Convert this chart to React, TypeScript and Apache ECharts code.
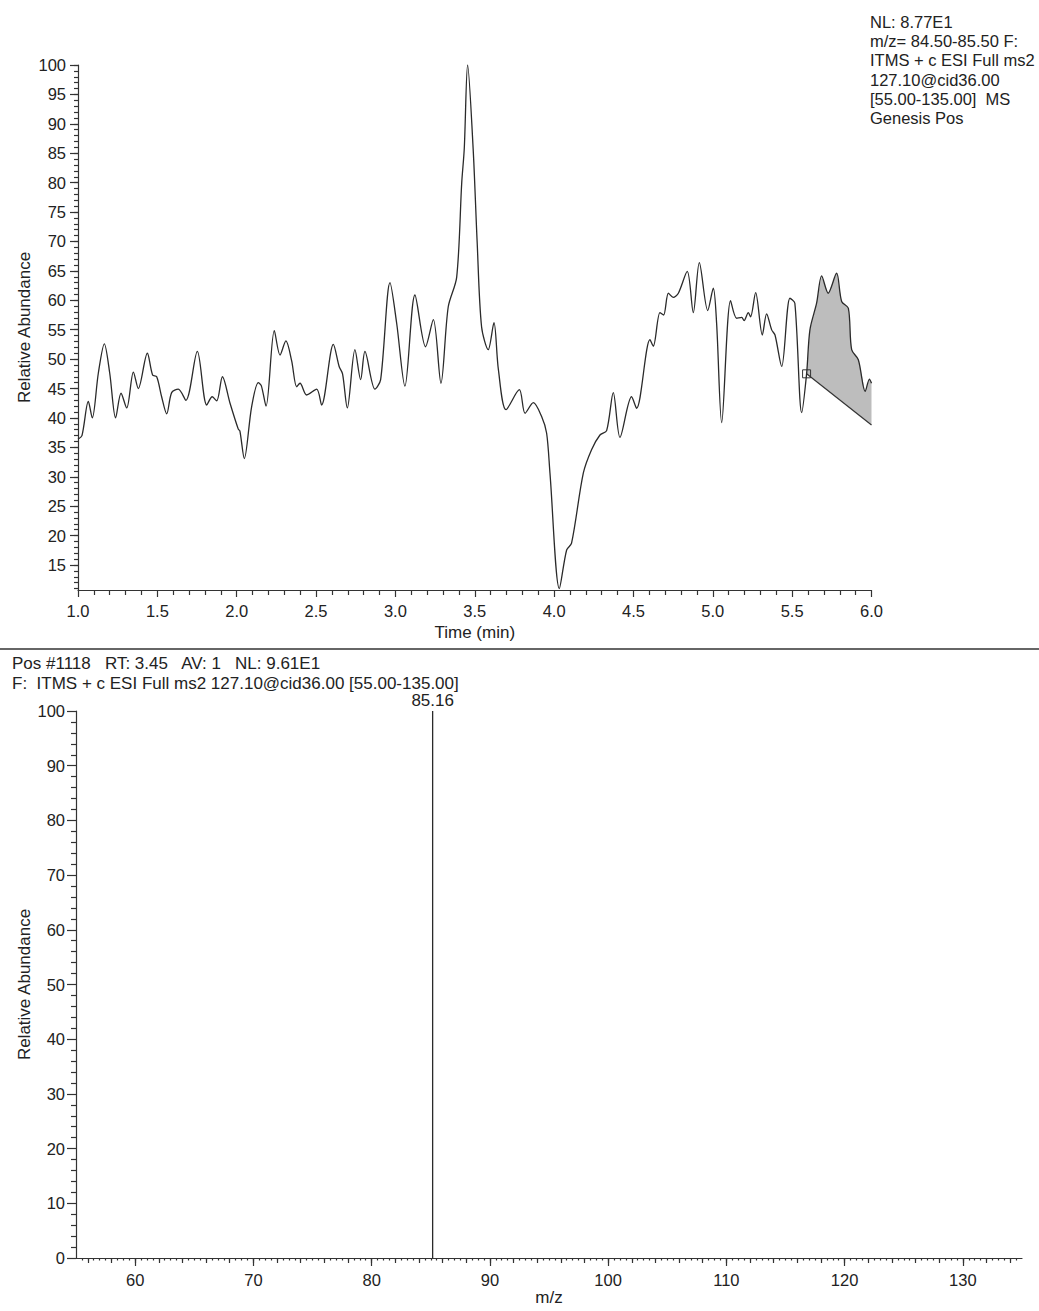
import React, { useEffect, useRef } from "react";
import * as echarts from "echarts";

// ---- Chromatogram (top panel) ----
const chromTime = [
  1.0, 1.025, 1.065, 1.09, 1.128, 1.166, 1.2, 1.237, 1.271, 1.307, 1.349, 1.38,
  1.437, 1.47, 1.496, 1.527, 1.559, 1.59, 1.632, 1.68, 1.752, 1.811, 1.846, 1.874,
  1.91, 1.958, 2.01, 2.02, 2.048, 2.094, 2.136, 2.155, 2.185, 2.237, 2.273, 2.31,
  2.346, 2.378, 2.399, 2.441, 2.504, 2.535, 2.609, 2.646, 2.667, 2.697, 2.745, 2.781,
  2.808, 2.871, 2.907, 2.966, 3.008, 3.06, 3.123, 3.19, 3.239, 3.287, 3.333, 3.386,
  3.418, 3.434, 3.455, 3.49, 3.515, 3.543, 3.585, 3.621, 3.649, 3.697, 3.781, 3.817,
  3.869, 3.922, 3.953, 3.974, 4.033, 4.079, 4.11, 4.184, 4.236, 4.289, 4.331, 4.373,
  4.415, 4.488, 4.52, 4.604, 4.625, 4.667, 4.69, 4.72, 4.75, 4.783, 4.839, 4.877,
  4.915, 4.968, 5.003, 5.024, 5.056, 5.112, 5.15, 5.182, 5.197, 5.224, 5.238, 5.27,
  5.312, 5.339, 5.371, 5.392, 5.434, 5.486, 5.517, 5.56, 5.591, 5.612, 5.654, 5.686,
  5.727, 5.78, 5.812, 5.854, 5.875, 5.917, 5.96, 5.987, 6.0,
];
const chromAbund = [
  36.4, 37.0, 42.8, 40.0, 47.6, 52.6, 47.6, 40.0, 44.2, 41.7, 47.8, 45.0,
  51.0, 47.3, 47.0, 43.6, 40.7, 44.3, 44.9, 43.0, 51.3, 42.2, 43.6, 42.9,
  47.0, 42.5, 38.1, 37.8, 33.1, 41.9, 46.0, 45.5, 42.0, 54.85, 50.7, 53.1,
  49.75, 45.3, 45.9, 43.9, 44.9, 42.2, 52.5, 48.7, 47.5, 41.7, 51.6, 46.5,
  51.3, 44.9, 46.5, 63.0, 56.1, 45.4, 60.9, 52.1, 56.7, 45.9, 58.9, 63.9,
  80.0, 85.8, 100.0, 85.7, 70.0, 55.5, 51.6, 56.2, 48.2, 41.4, 44.8, 40.8,
  42.6, 40.2, 37.4, 30.6, 11.0, 17.55, 18.7, 30.6, 34.6, 37.1, 37.85, 44.3,
  36.7, 43.6, 41.65, 53.3, 52.2, 57.9, 57.5, 61.2, 60.5, 61.2, 64.9, 57.9,
  66.4, 58.25, 62.05, 56.1, 39.2, 59.95, 56.95, 57.1, 56.55, 57.9, 57.2, 61.3,
  54.1, 57.7, 54.97, 54.1, 48.75, 60.35, 59.5, 40.9, 47.5, 54.97, 59.5, 64.15,
  61.2, 64.6, 59.8, 58.65, 51.6, 49.9, 44.5, 46.6, 45.9,
];
// integrated peak region: baseline from start point to end point
const shadeTimes = [5.591, 6.0];
const shadeBase = [47.5, 38.8];

const chromYMin = 10.75;
const chromYMax = 100;
const chromYLabels = [15, 20, 25, 30, 35, 40, 45, 50, 55, 60, 65, 70, 75, 80, 85, 90, 95, 100];

const chromInfoLines = [
  "NL: 8.77E1",
  "m/z= 84.50-85.50 F:",
  "ITMS + c ESI Full ms2",
  "127.10@cid36.00",
  "[55.00-135.00]  MS",
  "Genesis Pos",
];

// ---- Mass spectrum (bottom panel) ----
const specMz = [85.16];
const specIntensity = [100];
const specXLabels = [60, 70, 80, 90, 100, 110, 120, 130];
const specHeaderLines = [
  "Pos #1118   RT: 3.45   AV: 1   NL: 9.61E1",
  "F:  ITMS + c ESI Full ms2 127.10@cid36.00 [55.00-135.00]",
];

const FONT = "'Liberation Sans', Arial, Helvetica, sans-serif";
const INK = "#222";
const LINE = "#333";

function range(a: number, b: number, step: number): number[] {
  const out: number[] = [];
  for (let v = a; v <= b + 1e-9; v += step) out.push(Math.round(v * 100) / 100);
  return out;
}

export default function App() {
  const ref = useRef<HTMLDivElement>(null);

  useEffect(() => {
    if (!ref.current) return;
    const chart = echarts.init(ref.current, undefined, { renderer: "svg" });

    const chromData = chromTime.map((t, i) => [t, chromAbund[i]]);
    const shadePts = chromTime
      .map((t, i) => [t, chromAbund[i]])
      .filter((p) => p[0] >= shadeTimes[0] - 1e-9);

    const specLineData: any[] = [];
    specMz.forEach((mz, i) => {
      specLineData.push([mz, 0], [mz, specIntensity[i]], "-");
    });

    const chromYTicks = range(11, 100, 1);
    const specMidTicks = range(56, 134, 2);
    const specSmallTicks = range(55.5, 134.5, 0.5);

    const axisText = { color: INK, fontSize: 16.5, fontFamily: FONT };
    const nameText = { color: INK, fontSize: 17, fontFamily: FONT };
    const lineStyle = { color: LINE, width: 1.2 };

    const option: any = {
      animation: false,
      backgroundColor: "#fff",
      grid: [
        { left: 78, top: 65, width: 793.5, height: 525 },
        { left: 76, top: 711, width: 946, height: 547 },
      ],
      xAxis: [
        {
          type: "value",
          gridIndex: 0,
          min: 1,
          max: 6,
          interval: 0.5,
          axisLine: { lineStyle },
          axisTick: { length: 7, lineStyle },
          minorTick: { show: true, splitNumber: 5, length: 5, lineStyle },
          axisLabel: { ...axisText, margin: 12, formatter: (v: number) => v.toFixed(1) },
          splitLine: { show: false },
          minorSplitLine: { show: false },
          name: "Time (min)",
          nameLocation: "middle",
          nameGap: 34,
          nameMoveOverlap: false,
          nameTextStyle: nameText,
        },
        {
          type: "value",
          gridIndex: 1,
          position: "bottom",
          min: 55,
          max: 135,
          axisLine: { lineStyle },
          axisTick: { length: 8, lineStyle, customValues: specXLabels },
          axisLabel: { ...axisText, margin: 13, customValues: specXLabels },
          splitLine: { show: false },
          name: "m/z",
          nameLocation: "middle",
          nameGap: 31,
          nameMoveOverlap: false,
          nameTextStyle: nameText,
        },
        {
          type: "value",
          gridIndex: 1,
          position: "bottom",
          min: 55,
          max: 135,
          axisLine: { show: false },
          axisTick: { length: 5, lineStyle, customValues: specMidTicks },
          axisLabel: { show: false },
          splitLine: { show: false },
        },
        {
          type: "value",
          gridIndex: 1,
          position: "bottom",
          min: 55,
          max: 135,
          axisLine: { show: false },
          axisTick: { length: 2.5, lineStyle, customValues: specSmallTicks },
          axisLabel: { show: false },
          splitLine: { show: false },
        },
      ],
      yAxis: [
        {
          type: "value",
          gridIndex: 0,
          position: "left",
          min: chromYMin,
          max: chromYMax,
          axisLine: { show: true, lineStyle },
          axisTick: { show: true, length: 8, lineStyle, customValues: chromYLabels },
          axisLabel: { ...axisText, margin: 12, customValues: chromYLabels },
          splitLine: { show: false },
          name: "Relative Abundance",
          nameLocation: "middle",
          nameRotate: 90,
          nameGap: 45,
          nameMoveOverlap: false,
          nameTextStyle: nameText,
        },
        {
          type: "value",
          gridIndex: 0,
          position: "left",
          min: chromYMin,
          max: chromYMax,
          axisLine: { show: false },
          axisTick: { show: true, length: 4, lineStyle, customValues: chromYTicks },
          axisLabel: { show: false },
          splitLine: { show: false },
        },
        {
          type: "value",
          gridIndex: 1,
          position: "left",
          min: 0,
          max: 100,
          interval: 10,
          axisLine: { show: true, lineStyle },
          axisTick: { show: true, length: 9, lineStyle },
          minorTick: { show: true, splitNumber: 5, length: 5, lineStyle },
          axisLabel: { ...axisText, margin: 11 },
          splitLine: { show: false },
          minorSplitLine: { show: false },
          name: "Relative Abundance",
          nameLocation: "middle",
          nameRotate: 90,
          nameGap: 43,
          nameMoveOverlap: false,
          nameTextStyle: nameText,
        },
      ],
      series: [
        {
          type: "custom",
          xAxisIndex: 0,
          yAxisIndex: 0,
          z: 1,
          data: [[shadeTimes[0], shadeBase[0]]],
          renderItem: (_params: any, api: any) => {
            const pts = shadePts.map((p) => api.coord(p));
            const bStart = api.coord([shadeTimes[0], shadeBase[0]]);
            const bEnd = api.coord([shadeTimes[1], shadeBase[1]]);
            const poly = [...pts, bEnd, bStart];
            return {
              type: "group",
              children: [
                {
                  type: "polygon",
                  shape: { points: poly },
                  style: { fill: "#bdbdbd", stroke: "none" },
                },
                {
                  type: "line",
                  shape: { x1: bStart[0], y1: bStart[1], x2: bEnd[0], y2: bEnd[1] },
                  style: { stroke: LINE, lineWidth: 1.2 },
                },
                {
                  type: "rect",
                  shape: { x: bStart[0] - 4, y: bStart[1] - 4, width: 8, height: 8 },
                  style: { fill: "none", stroke: LINE, lineWidth: 1 },
                },
              ],
            };
          },
        },
        {
          type: "line",
          xAxisIndex: 0,
          yAxisIndex: 0,
          z: 3,
          data: chromData,
          smooth: 0.3,
          symbol: "none",
          lineStyle: { color: "#2a2a2a", width: 1.3 },
        },
        {
          type: "line",
          xAxisIndex: 1,
          yAxisIndex: 2,
          data: specLineData,
          connectNulls: false,
          symbol: "none",
          lineStyle: { color: "#2a2a2a", width: 1.3 },
        },
        {
          type: "scatter",
          xAxisIndex: 1,
          yAxisIndex: 2,
          data: specMz.map((mz, i) => [mz, specIntensity[i]]),
          symbolSize: 0,
          itemStyle: { opacity: 1 },
          label: {
            show: true,
            position: "top",
            distance: 2,
            formatter: (p: any) => p.value[0].toFixed(2),
            color: INK,
            opacity: 1,
            fontSize: 17,
            fontFamily: FONT,
          },
        },
      ],
      graphic: [
        {
          type: "line",
          shape: { x1: 0, y1: 649, x2: 1039, y2: 649 },
          style: { stroke: LINE, lineWidth: 1.5 },
        },
        ...chromInfoLines.map((s, i) => ({
          type: "text",
          x: 870,
          y: 22 + i * 19.2,
          style: {
            text: s,
            fontSize: 16.5,
            fontFamily: FONT,
            fill: INK,
            verticalAlign: "middle",
          },
        })),
        ...specHeaderLines.map((s, i) => ({
          type: "text",
          x: 12,
          y: 663 + i * 20,
          style: {
            text: s,
            fontSize: 17,
            fontFamily: FONT,
            fill: INK,
            verticalAlign: "middle",
          },
        })),
      ],
    };

    chart.setOption(option);
    return () => chart.dispose();
  }, []);

  return (
    <div
      ref={ref}
      style={{ position: "absolute", left: 0, top: 0, width: 1039, height: 1311 }}
    />
  );
}
